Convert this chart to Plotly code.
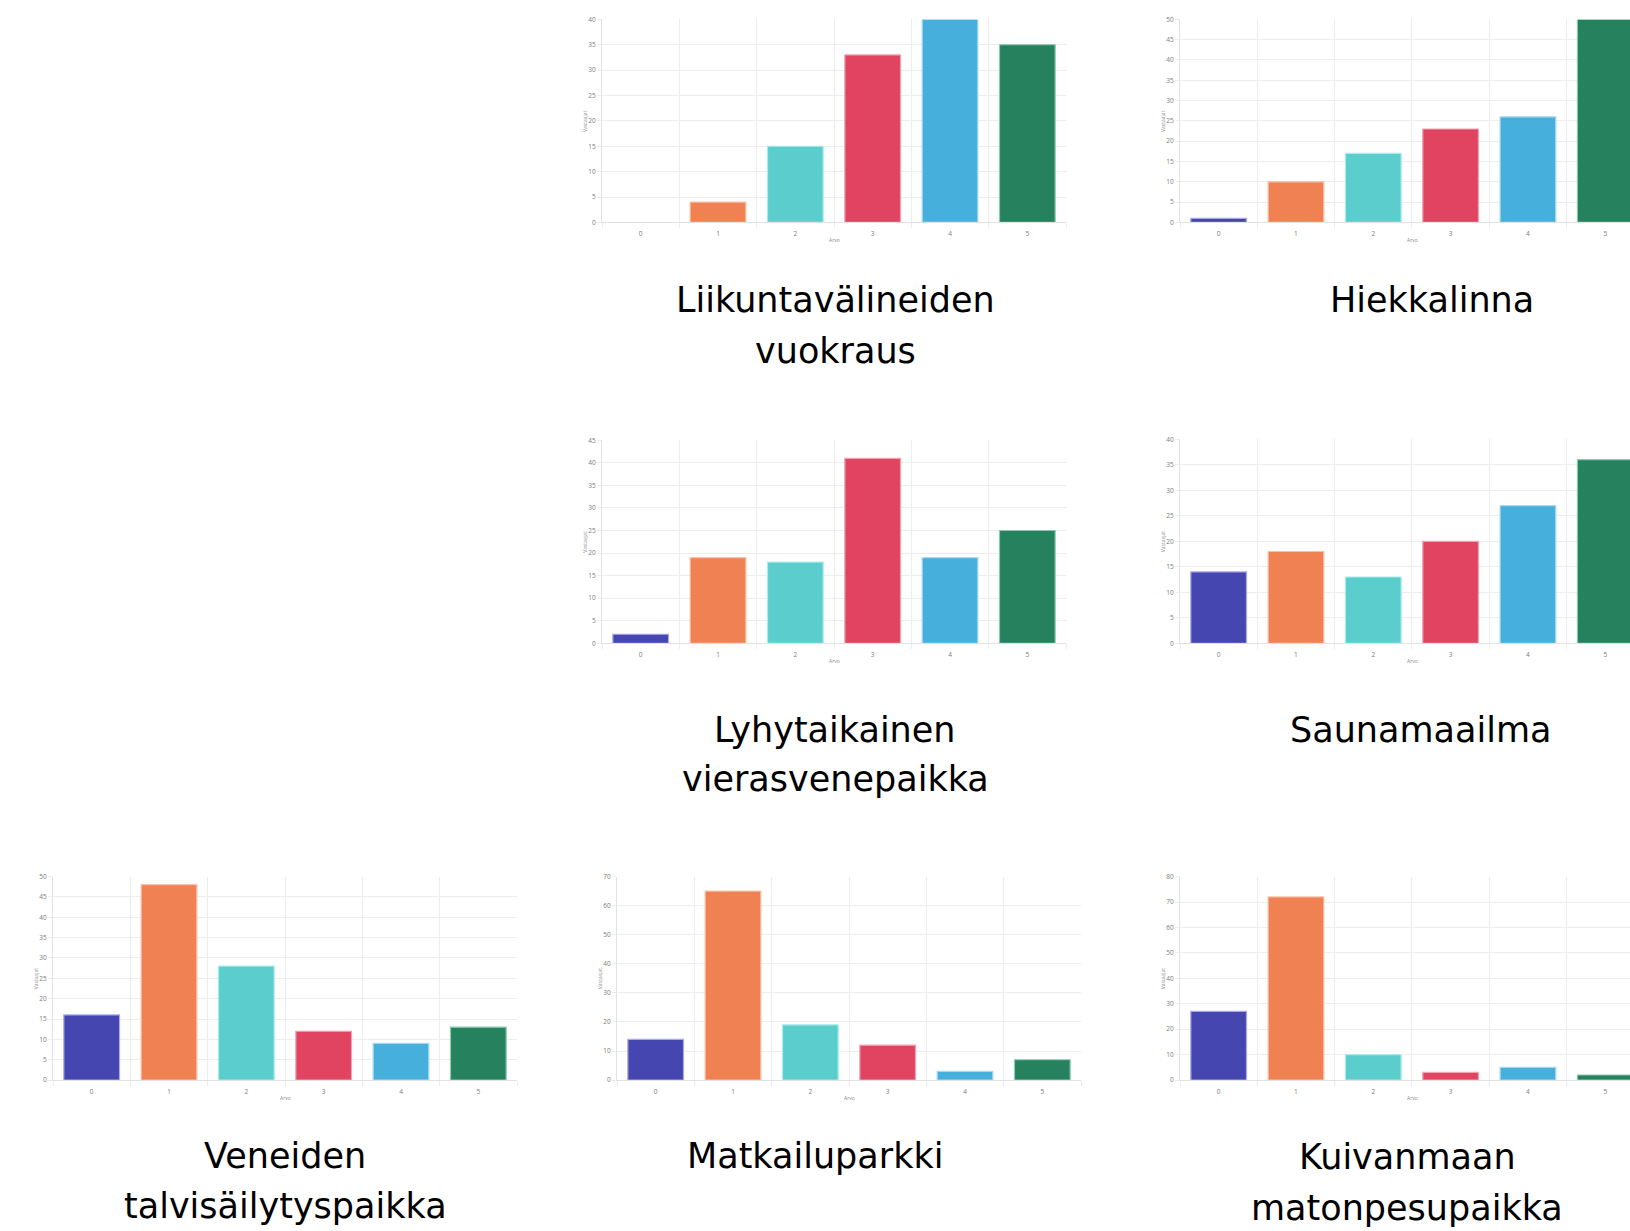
import plotly.graph_objects as go

W, H = 1630, 1231

categories = ["0", "1", "2", "3", "4", "5"]
bar_colors = ["#4546b0", "#ef8152", "#5bcdcd", "#e14461", "#46afdc", "#26815f"]
border_colors = ["#a9a9e6", "#f9c0a6", "#a9ecec", "#f2a3b2", "#a6daf2", "#8cc9b1"]

titles = [
    ["Liikuntavälineiden", "vuokraus"],
    ["Hiekkalinna"],
    ["Lyhytaikainen", "vierasvenepaikka"],
    ["Saunamaailma"],
    ["Veneiden", "talvisäilytyspaikka"],
    ["Matkailuparkki"],
    ["Kuivanmaan", "matonpesupaikka"],
]
values = [
    [0, 4, 15, 33, 40, 35],
    [1, 10, 17, 23, 26, 50],
    [2, 19, 18, 41, 19, 25],
    [14, 18, 13, 20, 27, 36],
    [16, 48, 28, 12, 9, 13],
    [14, 65, 19, 12, 3, 7],
    [27, 72, 10, 3, 5, 2],
]
y_max = [40, 50, 45, 40, 50, 70, 80]
y_step = [5, 5, 5, 5, 5, 10, 10]
y_title = "Vastaajat"
x_title = "Arvo"

# layout boxes in pixels: (left, right, top, bottom, x-range upper, title center x, title line y's)
boxes = [
    (602, 1066, 14.5, 219, 5.5, 835, [297, 349]),
    (1180, 1630, 14.5, 219, 5.32, 1432, [297]),
    (602, 1066, 438.5, 643, 5.5, 835, [730, 780]),
    (1180, 1630, 437.5, 643, 5.32, 1420, [730]),
    (53, 517, 878, 1083, 5.5, 285, [1159, 1210]),
    (617, 1081, 878, 1083, 5.5, 815, [1159]),
    (1180, 1630, 878, 1083, 5.32, 1407, [1160, 1212]),
]

grid = "#ededed"
axis_line = "#e2e2e2"
tick_font = dict(family="Open Sans, Arial, sans-serif", size=6.5, color="#7a7a7a")
title_font = dict(family="DejaVu Sans, sans-serif", size=35, color="#000000")

fig = go.Figure()
annotations = []
for i, (vals, (l, r, t, b, xr, tcx, tys)) in enumerate(zip(values, boxes)):
    n = "" if i == 0 else str(i + 1)
    fig.add_trace(go.Bar(
        x=list(range(len(categories))), y=vals,
        width=0.72,
        marker=dict(color=bar_colors,
                    line=dict(color=border_colors, width=[0 if v == 0 else 1.2 for v in vals])),
        xaxis="x" + n, yaxis="y" + n, showlegend=False,
    ))
    xd = [l / W, r / W]
    yd = [1 - b / H, 1 - t / H]
    fig.update_layout(**{
        "xaxis" + n: dict(
            domain=xd, anchor="y" + n, range=[-0.5, xr],
            tickmode="array", tickvals=list(range(len(categories))), ticktext=categories,
            showgrid=False, zeroline=False, showline=True, linecolor=axis_line, linewidth=1,
            ticks="outside", ticklen=5, tickcolor="rgba(0,0,0,0)",
            tickfont=tick_font,
            minor=dict(tickmode="array", tickvals=[k - 0.5 for k in range(len(categories) + 1)],
                       showgrid=True, gridcolor=grid, gridwidth=1,
                       ticks="outside", ticklen=5, tickcolor=grid),
        ),
        "yaxis" + n: dict(
            domain=yd, anchor="x" + n, range=[0, y_max[i]],
            tickmode="linear", tick0=0, dtick=y_step[i],
            showgrid=True, gridcolor=grid, gridwidth=1, zeroline=False,
            showline=True, linecolor=axis_line, linewidth=1,
            ticks="outside", ticklen=4, tickcolor=grid,
            tickfont=tick_font,
        ),
    })
    # axis titles
    annotations.append(dict(
        x=(l - 17) / W, y=1 - ((t + b) / 2) / H, xref="paper", yref="paper",
        text=y_title, textangle=-90, showarrow=False, xanchor="center", yanchor="middle",
        font=dict(family="Open Sans, Arial, sans-serif", size=5, color="#8a8a8a"),
    ))
    annotations.append(dict(
        x=((l + l + 464) / 2) / W, y=1 - (b + 18) / H, xref="paper", yref="paper",
        text=x_title, showarrow=False, xanchor="center", yanchor="middle",
        font=dict(family="Open Sans, Arial, sans-serif", size=5, color="#8a8a8a"),
    ))
    for line, ty in zip(titles[i], tys):
        annotations.append(dict(
            x=tcx / W, y=1 - ty / H, xref="paper", yref="paper",
            text=line, showarrow=False, xanchor="center", yanchor="middle",
            font=title_font,
        ))

fig.update_layout(
    width=W, height=H, margin=dict(l=0, r=0, t=0, b=0),
    paper_bgcolor="white", plot_bgcolor="white",
    annotations=annotations, bargap=0.28,
)

fig.write_html(
    "out.html",
    config={"displayModeBar": False},
    post_script="document.body.style.margin='0';document.body.style.overflow='hidden';",
)
